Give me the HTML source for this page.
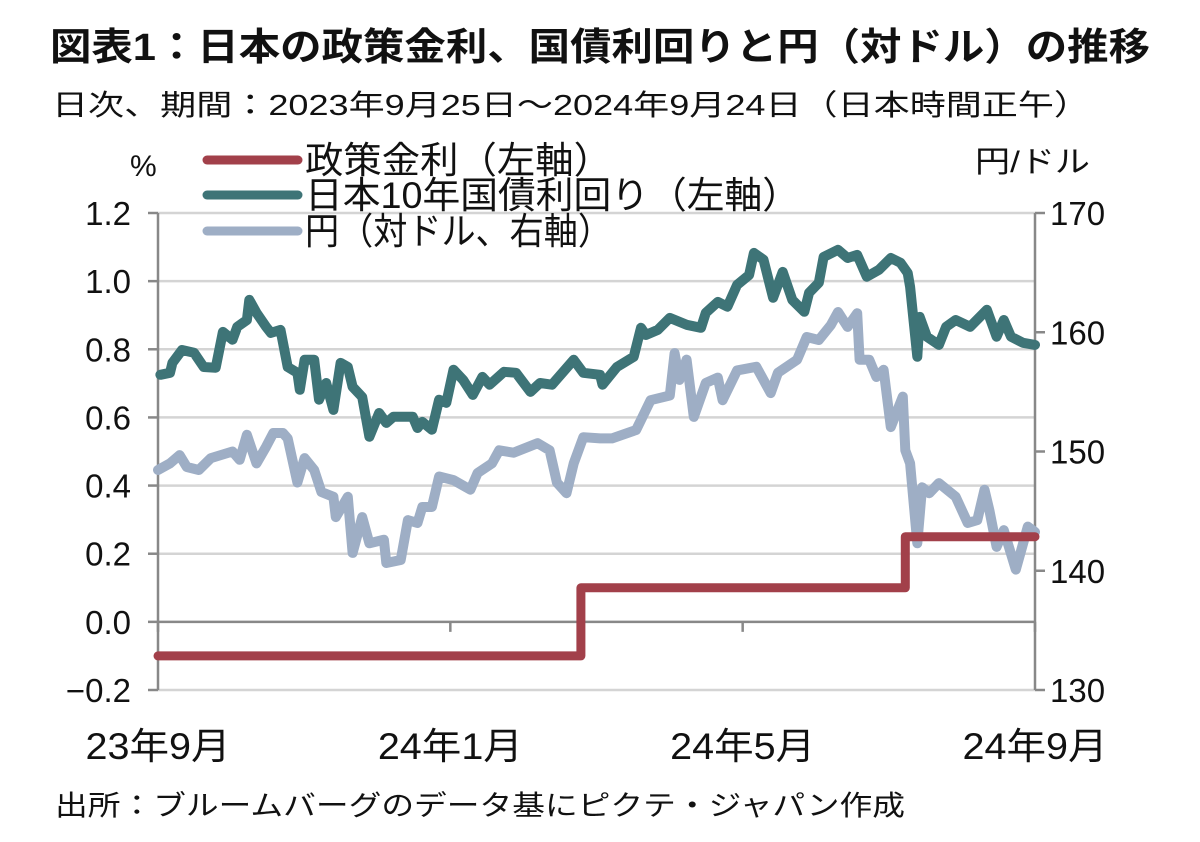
<!DOCTYPE html>
<html><head><meta charset="utf-8"><style>
html,body{margin:0;padding:0;background:#fff;}
svg text{font-family:"Liberation Sans","Noto Sans CJK JP",sans-serif;fill:#111;}
</style></head><body>
<svg id="chart" width="1200" height="837" viewBox="0 0 1200 837">
<text x="50" y="60" font-size="38" font-weight="bold" textLength="1100" lengthAdjust="spacingAndGlyphs">図表1：日本の政策金利、国債利回りと円（対ドル）の推移</text>
<text x="52" y="115" font-size="29" textLength="1038" lengthAdjust="spacingAndGlyphs">日次、期間：2023年9月25日～2024年9月24日（日本時間正午）</text>
<text x="130" y="176" font-size="30">%</text>
<text x="975" y="172" font-size="30" textLength="115" lengthAdjust="spacingAndGlyphs">円/ドル</text>
<g id="grid"></g>
<g id="axes"></g>
<g id="series"></g>
<g id="legend"></g>
<text x="55" y="815" font-size="28" textLength="850" lengthAdjust="spacingAndGlyphs">出所：ブルームバーグのデータ基にピクテ・ジャパン作成</text>
</svg>
<script>
const leftTicks=[-0.2,0.0,0.2,0.4,0.6,0.8,1.0,1.2];
const leftTickLabels=["−0.2","0.0","0.2","0.4","0.6","0.8","1.0","1.2"];
const rightTicks=[130,140,150,160,170];
const xTickLabels=["23年9月","24年1月","24年5月","24年9月"];
const policyDays=[0,176,176,311,311,365];
const policyValues=[-0.1,-0.1,0.1,0.1,0.25,0.25];
const jgbDays=[1,5,6,10,15,19,24,27,31,33,37,38,41,45,47,51,54,58,59,61,65,67,70,73,76,79,81,85,88,92,95,98,106,108,110,114,117,120,123,127,131,135,138,144,149,155,159,164,173,177,184,185,191,198,201,203,208,213,220,226,228,233,237,241,246,248,252,256,260,264,269,271,275,277,283,287,291,295,300,305,309,312,313,316,317,320,325,328,332,338,345,349,352,355,360,365];
const jgbValues=[0.725,0.731,0.76,0.798,0.79,0.748,0.746,0.851,0.828,0.866,0.886,0.945,0.907,0.866,0.848,0.857,0.748,0.731,0.681,0.769,0.769,0.652,0.701,0.622,0.76,0.748,0.69,0.66,0.543,0.613,0.584,0.602,0.602,0.569,0.587,0.564,0.652,0.643,0.74,0.71,0.666,0.719,0.696,0.734,0.731,0.675,0.701,0.696,0.769,0.731,0.725,0.696,0.748,0.778,0.863,0.842,0.857,0.892,0.872,0.863,0.907,0.939,0.925,0.989,1.018,1.083,1.063,0.951,1.027,0.945,0.91,0.966,0.995,1.071,1.092,1.068,1.077,1.013,1.033,1.068,1.054,1.024,0.983,0.778,0.895,0.837,0.813,0.866,0.886,0.866,0.916,0.837,0.886,0.837,0.819,0.813];
const yenDays=[0,5,9,12,17,22,31,34,37,41,45,48,52,54,58,61,65,68,73,74,79,81,85,88,94,95,101,104,108,110,114,117,123,130,133,139,142,148,158,163,166,170,173,177,184,189,199,205,213,215,217,220,223,228,233,235,241,249,255,258,266,270,275,280,283,287,291,292,296,299,302,305,310,311,313,316,318,321,325,332,337,341,344,346,349,352,357,362,365];
const yenValues=[148.45,149.0,149.7,148.7,148.45,149.45,150.0,149.3,151.4,149.0,150.4,151.55,151.55,151.1,147.4,149.45,148.45,146.6,146.2,144.5,146.2,141.5,144.5,142.3,142.6,140.65,140.9,144.25,144.0,145.35,145.35,147.9,147.6,146.8,148.2,149.0,150.1,149.9,150.7,150.1,147.4,146.5,149.0,151.2,151.1,151.1,151.8,154.3,154.7,158.25,156.0,157.7,152.9,155.75,156.2,154.3,156.8,157.1,154.9,156.6,157.7,159.6,159.35,160.6,161.7,160.45,161.6,157.7,157.7,156.25,156.85,152.05,154.6,150.1,149.0,142.3,147.0,146.5,147.35,146.2,144.0,144.25,146.8,145.1,142.0,143.4,140.1,143.7,143.25];

const NS="http://www.w3.org/2000/svg";
const X0=158,X1=1035,YT=213,YB=690;
const xDay=d=>X0+(X1-X0)*d/365;
const yL=v=>YB-(v-(-0.2))/1.4*(YB-YT);
const yR=v=>YB-(v-130)/40*(YB-YT);
function mk(tag,attrs,parent){const e=document.createElementNS(NS,tag);for(const k in attrs)e.setAttribute(k,attrs[k]);parent.appendChild(e);return e;}
const grid=document.getElementById('grid'),axes=document.getElementById('axes'),series=document.getElementById('series'),legend=document.getElementById('legend');
leftTicks.forEach((t,i)=>{
  const y=yL(t);
  if(Math.abs(t)>1e-9){const g=mk('line',{x1:X0,x2:X1,y1:y,y2:y,stroke:'#d4d4d4','stroke-width':2.5},grid);
  
  }
  const tk=mk('line',{x1:X0-10,x2:X0,y1:y,y2:y,stroke:'#888','stroke-width':2.5},axes);
  
  
  const tx=mk('text',{x:131,y:y+12,'font-size':33,'text-anchor':'end'},axes);
  tx.textContent=leftTickLabels[i];
  
  
});
rightTicks.forEach(t=>{
  const y=yR(t);
  const tk=mk('line',{x1:X1,x2:X1+10,y1:y,y2:y,stroke:'#888','stroke-width':2.5},axes);
  
  
  const tx=mk('text',{x:1050,y:y+12,'font-size':33},axes);
  tx.textContent=String(t);
  
  
});
const la=mk('line',{x1:X0,x2:X0,y1:YT,y2:YB,stroke:'#888','stroke-width':2.5},axes);


const ra=mk('line',{x1:X1,x2:X1,y1:YT,y2:YB,stroke:'#888','stroke-width':2.5},axes);


const y0=yL(0);
const xa=mk('line',{x1:X0,x2:X1,y1:y0,y2:y0,stroke:'#888','stroke-width':2.5},axes);


xTickLabels.forEach((l,i)=>{
  const x=X0+(X1-X0)*i/(xTickLabels.length-1);
  const tk=mk('line',{x1:x,x2:x,y1:y0,y2:y0+10,stroke:'#888','stroke-width':2.5},axes);
  
  
  const tx=mk('text',{x:x,y:759,'font-size':37,'text-anchor':'middle',textLength:145,lengthAdjust:'spacingAndGlyphs'},axes);
  tx.textContent=l;
  
  
});
function path(days,vals,yf,color,w,name){
  const d=days.map((dd,i)=>(i?'L':'M')+xDay(dd).toFixed(1)+','+yf(vals[i]).toFixed(1)).join('');
  const p=mk('path',{d:d,fill:'none',stroke:color,'stroke-width':w,'stroke-linejoin':'round','stroke-linecap':'round'},series);
  
  
}
path(yenDays,yenValues,yR,'#9eaec5',10,'yen-line');
path(jgbDays,jgbValues,yL,'#3e7477',10,'jgb-10y-line');
path(policyDays,policyValues,yL,'#a2404a',9,'policy-rate-line');
const leg=[['#a2404a','政策金利（左軸）',160,307],['#3e7477','日本10年国債利回り（左軸）',195,495],['#9eaec5','円（対ドル、右軸）',231,307]];
leg.forEach(l=>{
  const ln=mk('line',{x1:207,x2:298,y1:l[2],y2:l[2],stroke:l[0],'stroke-width':9,'stroke-linecap':'round'},legend);
  
  
  const tx=mk('text',{x:305,y:l[2]+13,'font-size':37,textLength:l[3],lengthAdjust:'spacingAndGlyphs'},legend);
  tx.textContent=l[1];
  
  
});
</script>
</body></html>
